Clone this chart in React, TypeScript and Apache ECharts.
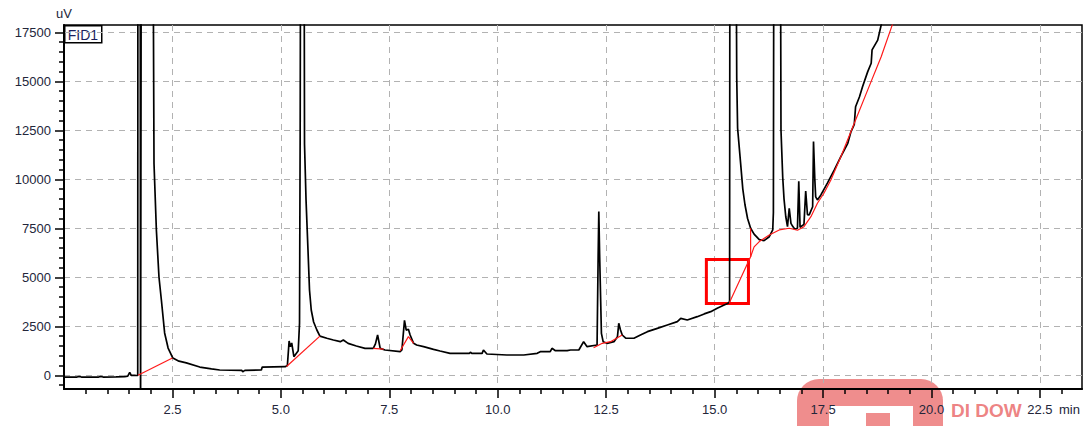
import React, { useEffect, useRef } from "react";
import * as echarts from "echarts";

// Chromatogram trace: [retention time (min), signal (uV)]
const trace: [number, number][] = [
  [0.0, -90], [0.3, -90], [0.35, -60], [0.4, -90], [0.8, -90], [0.85, -60], [0.9, -90],
  [1.2, -80], [1.4, -70], [1.47, -40], [1.515, 150], [1.55, -10], [1.65, -10], [1.7, 0],
  [1.705, 30000], [1.755, 30000], [1.765, -3000], [1.775, -3000], [1.785, 30000], [2.04, 30000],
  [2.075, 10800], [2.13, 7400], [2.19, 5000], [2.245, 3840], [2.32, 2160], [2.4, 1390],
  [2.51, 880], [2.65, 720], [2.82, 630], [3.13, 420], [3.4, 330], [3.59, 270], [4.1, 250],
  [4.12, 180], [4.17, 250], [4.55, 270], [4.57, 420], [5.1, 440], [5.15, 500], [5.19, 1750],
  [5.22, 1450], [5.25, 1650], [5.3, 950], [5.4, 1250], [5.43, 2650], [5.445, 12500],
  [5.46, 30000], [5.53, 30000], [5.545, 11800], [5.58, 8950], [5.625, 6400], [5.66, 4350],
  [5.7, 3330], [5.755, 2720], [5.83, 2310], [5.9, 2000], [6.06, 1890], [6.21, 1800],
  [6.37, 1715], [6.44, 1800], [6.55, 1630], [6.74, 1495], [6.94, 1375], [7.13, 1375],
  [7.18, 1600], [7.23, 2055], [7.29, 1375], [7.4, 1290], [7.75, 1205], [7.79, 1290],
  [7.85, 2800], [7.89, 2300], [7.94, 2350], [7.98, 2055], [8.06, 1630], [8.13, 1545],
  [8.29, 1460], [8.52, 1325], [8.67, 1240], [8.9, 1120], [9.35, 1120], [9.37, 1180],
  [9.4, 1120], [9.64, 1120], [9.67, 1290], [9.75, 1085], [10.21, 1035], [10.6, 1035],
  [10.91, 1120], [10.98, 1205], [11.21, 1205], [11.25, 1375], [11.33, 1255], [11.6, 1255],
  [11.68, 1290], [11.87, 1290], [11.98, 1715], [12.06, 1460], [12.29, 1545], [12.315, 6100],
  [12.33, 8350], [12.35, 6050], [12.39, 2140], [12.43, 1715], [12.52, 1630], [12.68, 1715],
  [12.76, 1970], [12.79, 2650], [12.83, 2310], [12.87, 2055], [12.95, 1890], [13.14, 1890],
  [13.29, 2055], [13.45, 2225], [13.68, 2395], [13.91, 2565], [14.14, 2735], [14.22, 2905],
  [14.37, 2820], [14.6, 2990], [14.76, 3130], [14.91, 3245], [15.06, 3415], [15.22, 3585],
  [15.3, 3660], [15.345, 3760], [15.355, 30000], [15.48, 30000], [15.51, 15150],
  [15.53, 12600], [15.6, 10800], [15.65, 9500], [15.7, 8700], [15.76, 8000], [15.83, 7500],
  [15.91, 7200], [16.03, 6920], [16.14, 6870], [16.26, 7070], [16.34, 7415], [16.355, 8300],
  [16.37, 30000], [16.51, 30000], [16.53, 12510], [16.57, 10100], [16.6, 9000], [16.64, 8100],
  [16.68, 7580], [16.72, 8520], [16.76, 7750], [16.8, 7600], [16.85, 7450], [16.91, 7500],
  [16.94, 9900], [16.97, 7550], [17.06, 7700], [17.1, 9400], [17.14, 8200], [17.18, 8180],
  [17.26, 8600], [17.28, 11920], [17.31, 10000], [17.33, 9100], [17.37, 8945], [17.45, 9200],
  [17.6, 9800], [17.76, 10475], [17.91, 11150], [18.07, 11835], [18.14, 12400], [18.22, 12800],
  [18.25, 13700], [18.34, 14210], [18.41, 14720], [18.53, 15490], [18.61, 15920],
  [18.63, 16600], [18.76, 17100], [18.84, 17870], [19.0, 20000],
];

// Integration baselines (red)
const baselineA: [number, number][] = [[1.707, 0], [2.5, 880]];
const baselineB: [number, number][] = [[5.13, 450], [5.9, 2000]];
const baselineC: [number, number][] = [[7.13, 1375], [7.37, 1330]];
const baselineD: [number, number][] = [[7.75, 1250], [7.94, 1970], [8.06, 1630]];
const baselineE: [number, number][] = [[12.21, 1400], [12.41, 1630], [12.6, 1715], [12.87, 2055]];
const baselineF: [number, number][] = [[15.34, 3700], [15.83, 6050], [15.83, 7500]];
const baselineG: [number, number][] = [
  [15.83, 6050], [15.91, 6550], [16.03, 6820], [16.26, 7160], [16.49, 7415], [16.72, 7500],
  [16.91, 7400], [17.06, 7580], [17.22, 8090], [17.37, 8775], [17.52, 9285], [17.68, 9965],
  [17.91, 11150], [18.22, 12860], [18.53, 14560], [18.84, 16250], [19.1, 17900], [19.3, 19200],
];
const baselines = [baselineA, baselineB, baselineC, baselineD, baselineE, baselineF, baselineG];

// Highlight box (time range, signal range)
const boxTime = [14.81, 15.78];
const boxSignal = [3660, 5910];

// Axes
const xRange = [0, 23.47];
const yRange = [-700, 17870];
const xMajorTicks = [2.5, 5, 7.5, 10, 12.5, 15, 17.5, 20, 22.5];
const xMinorTicks = [
  0.5, 1, 1.5, 2, 3, 3.5, 4, 4.5, 5.5, 6, 6.5, 7, 8, 8.5, 9, 9.5, 10.5, 11, 11.5, 12,
  13, 13.5, 14, 14.5, 15.5, 16, 16.5, 17, 18, 18.5, 19, 19.5, 20.5, 21, 21.5, 22, 23,
];
const yMajorTicks = [0, 2500, 5000, 7500, 10000, 12500, 15000, 17500];
const yMinorTicks = [
  -500, 500, 1000, 1500, 2000, 3000, 3500, 4000, 4500, 5500, 6000, 6500, 7000, 8000, 8500,
  9000, 9500, 10500, 11000, 11500, 12000, 13000, 13500, 14000, 14500, 15500, 16000, 16500,
  17000,
];

const FONT = "'Liberation Sans', Arial, sans-serif";
const LABEL_COLOR = "#23263a";
const GRID_LINE = { color: "#b2b2b2", type: [6, 5] as number[], width: 1 };
const WM_RED = "rgba(226, 48, 48, 0.55)";

export default function App() {
  const ref = useRef<HTMLDivElement>(null);

  useEffect(() => {
    if (!ref.current) return;
    const chart = echarts.init(ref.current, undefined, { renderer: "svg" });

    const baselineSeries = baselines.map((seg, i) => ({
      type: "line",
      xAxisIndex: 0,
      yAxisIndex: 0,
      data: seg,
      symbol: "none",
      showSymbol: false,
      silent: true,
      z: 4,
      lineStyle: { color: "#ff1a1a", width: 1.2 },
      ...(i === 0
        ? {
            markArea: {
              silent: true,
              itemStyle: { color: "rgba(0,0,0,0)", borderColor: "#ff0000", borderWidth: 3 },
              data: [[{ coord: [boxTime[0], boxSignal[0]] }, { coord: [boxTime[1], boxSignal[1]] }]],
            },
          }
        : {}),
    }));

    const option: any = {
      animation: false,
      backgroundColor: "#ffffff",
      grid: {
        left: 64,
        right: 7,
        top: 25,
        bottom: 37,
        show: true,
        borderColor: "#000",
        borderWidth: 1.5,
        backgroundColor: "transparent",
      },
      xAxis: [
        {
          type: "value",
          min: xRange[0],
          max: xRange[1],
          position: "bottom",
          axisLine: { show: true, onZero: false, lineStyle: { color: "#000", width: 2 } },
          axisTick: { show: true, customValues: xMajorTicks, length: 9, lineStyle: { color: "#000", width: 1.5 } },
          axisLabel: {
            customValues: xMajorTicks,
            formatter: (v: number) => v.toFixed(1),
            color: LABEL_COLOR,
            fontSize: 13,
            fontFamily: FONT,
            margin: 14,
          },
          splitLine: { show: true, lineStyle: GRID_LINE },
        },
        {
          type: "value",
          min: xRange[0],
          max: xRange[1],
          position: "bottom",
          axisLine: { show: false, onZero: false },
          axisTick: { show: true, customValues: xMinorTicks, length: 5, lineStyle: { color: "#000", width: 1.5 } },
          axisLabel: { show: false },
          splitLine: { show: false },
        },
      ],
      yAxis: [
        {
          type: "value",
          min: yRange[0],
          max: yRange[1],
          position: "left",
          name: "uV",
          nameLocation: "end",
          nameGap: 5,
          nameTextStyle: { color: LABEL_COLOR, fontSize: 13, fontFamily: FONT },
          axisLine: { show: true, onZero: false, lineStyle: { color: "#000", width: 2 } },
          axisTick: { show: true, customValues: yMajorTicks, length: 9, lineStyle: { color: "#000", width: 1.5 } },
          axisLabel: {
            customValues: yMajorTicks,
            formatter: (v: number) => String(Math.round(v)),
            color: LABEL_COLOR,
            fontSize: 13,
            fontFamily: FONT,
            margin: 13,
          },
          splitLine: { show: true, lineStyle: GRID_LINE },
        },
        {
          type: "value",
          min: yRange[0],
          max: yRange[1],
          position: "left",
          offset: 0,
          axisLine: { show: false, onZero: false },
          axisTick: { show: true, customValues: yMinorTicks, length: 5, lineStyle: { color: "#000", width: 1.5 } },
          axisLabel: { show: false },
          splitLine: { show: false },
        },
      ],
      series: [
        {
          type: "line",
          name: "FID1",
          xAxisIndex: 0,
          yAxisIndex: 0,
          data: trace,
          symbol: "none",
          showSymbol: false,
          silent: true,
          z: 3,
          lineStyle: { color: "#000", width: 1.7 },
        },
        ...baselineSeries,
      ],
      graphic: [
        {
          type: "group",
          left: 64,
          top: 25,
          z: 100,
          children: [
            {
              type: "rect",
              shape: { x: 0, y: 0, width: 37, height: 17 },
              style: { fill: "#fff", stroke: "#000", lineWidth: 1.5 },
            },
            {
              type: "text",
              x: 3,
              y: 2,
              style: { text: "FID1", fill: "#1b1f5e", fontSize: 14, fontFamily: FONT },
            },
          ],
        },
        {
          type: "text",
          left: 1059,
          top: 403,
          z: 100,
          style: { text: "min", fill: LABEL_COLOR, fontSize: 13, fontFamily: FONT },
        },
        // watermark (drawn beneath the axes so that the labels stay readable)
        {
          type: "rect",
          z: -1,
          shape: { x: 797, y: 379, width: 146, height: 80, r: 22 },
          style: { fill: WM_RED },
        },
        {
          type: "rect",
          z: -1,
          shape: { x: 829, y: 406, width: 84, height: 30 },
          style: { fill: "#ffffff" },
        },
        {
          type: "rect",
          z: -1,
          shape: { x: 866, y: 413, width: 24, height: 20 },
          style: { fill: WM_RED },
        },
        {
          type: "text",
          z: -1,
          x: 951,
          y: 401,
          style: {
            text: "DI DOW",
            fill: "rgba(226, 48, 48, 0.6)",
            fontSize: 19,
            fontWeight: "bold",
            fontFamily: FONT,
          },
        },
      ],
    };

    chart.setOption(option);
    return () => chart.dispose();
  }, []);

  return (
    <div
      ref={ref}
      style={{ position: "absolute", left: 0, top: 0, width: 1089, height: 426 }}
    />
  );
}
